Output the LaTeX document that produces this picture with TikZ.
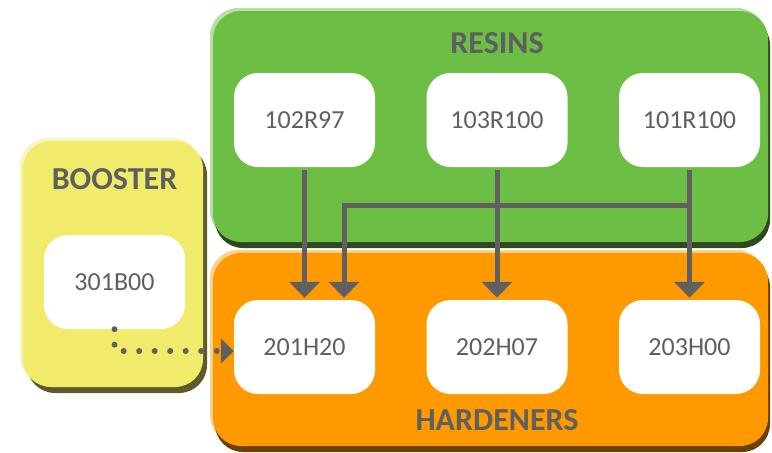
\documentclass[tikz,border=0pt]{standalone}
\usepackage{fontspec}
\setmainfont{Carlito}
\usepackage{tikz}
\usetikzlibrary{arrows.meta, shadows}
\definecolor{resgreen}{HTML}{6CBE45}
\definecolor{reslight}{HTML}{B8DFA3}
\definecolor{resdark}{HTML}{2D4A1E}
\definecolor{hardorange}{HTML}{FF9900}
\definecolor{hardlight}{HTML}{FFD08A}
\definecolor{harddark}{HTML}{6B4000}
\definecolor{boostyellow}{HTML}{F0EB6B}
\definecolor{boostlight}{HTML}{F8F5BC}
\definecolor{boostdark}{HTML}{5E5A2A}
\definecolor{textgray}{HTML}{5F5F5F}
\definecolor{linegray}{HTML}{606060}
\tikzstyle{panel} = [rectangle, rounded corners=28pt, inner sep=0pt]
\tikzstyle{respanel} = [panel, minimum width=555pt, minimum height=231pt, fill=resgreen, general shadow={shadow xshift=-3pt, shadow yshift=3pt, fill=reslight}, general shadow={shadow xshift=2pt, shadow yshift=-6pt, fill=resdark}]
\tikzstyle{hardpanel} = [panel, minimum width=555pt, minimum height=193pt, fill=hardorange, general shadow={shadow xshift=-3pt, shadow yshift=3pt, fill=hardlight}, general shadow={shadow xshift=2pt, shadow yshift=-6pt, fill=harddark}]
\tikzstyle{boostpanel} = [panel, minimum width=180pt, minimum height=246pt, fill=boostyellow, general shadow={shadow xshift=-3pt, shadow yshift=3pt, fill=boostlight}, general shadow={shadow xshift=4pt, shadow yshift=-6pt, fill=boostdark}]
\tikzstyle{item} = [rectangle, rounded corners=24pt, minimum width=141pt, minimum height=94pt, text centered, fill=white, text=textgray, font=\fontsize{26}{30}\selectfont]
\tikzstyle{title} = [text=textgray, font=\fontsize{32}{36}\selectfont\bfseries]
\tikzstyle{arrow} = [line width=5pt, draw=linegray, -{Triangle[width=30pt, length=16pt]}, shorten <=3pt, shorten >=2pt]
\tikzstyle{dotarrow} = [line width=6pt, draw=linegray, line cap=round, dash pattern=on 0pt off 15.5pt, -{Triangle[width=25pt, length=13pt]}]

\begin{document}
\begin{tikzpicture}[x=1pt, y=1pt, node distance=192.5pt]
		\clip (0,0) rectangle (772,-453);
		% Panels
		\node (hardeners) [hardpanel] at (490.5,-349.5) {};
		\node (resins) [respanel] at (490.5,-126.5) {};
		\node (booster) [boostpanel] at (113,-264) {};
		\node (restitle) [title] at (497,-43) {RESINS};
		\node (hardtitle) [title] at (497,-420) {HARDENERS};
		\node (boosttitle) [title] at (114.5,-179) {BOOSTER};
		% Nodes
		\node (r1) [item] at (304.5,-120) {102R97};
		\node (r2) [item, right of = r1] {103R100};
		\node (r3) [item, right of = r2] {101R100};
		\node (h1) [item, below of = r1, yshift = -34.5pt] {201H20};
		\node (h2) [item, right of = h1] {202H07};
		\node (h3) [item, right of = h2] {203H00};
		\node (b1) [item, left of = h1, xshift = 2.5pt, yshift = 65pt] {301B00};
		\coordinate (split) at ([yshift=-38pt]r3.south);
		% Arrows
		\draw [arrow] (r1.south) -- (h1.north);
		\draw [arrow] (r2.south) -- (h2.north);
		\draw [arrow] (r3.south) -- (h3.north);
		\draw [arrow, shorten <=0pt] (split) -| ([xshift=39.5pt]h1.north);
		\draw [dotarrow] (b1.south) |- ([yshift=-4pt]h1.west);
	\end{tikzpicture}
\end{document}
